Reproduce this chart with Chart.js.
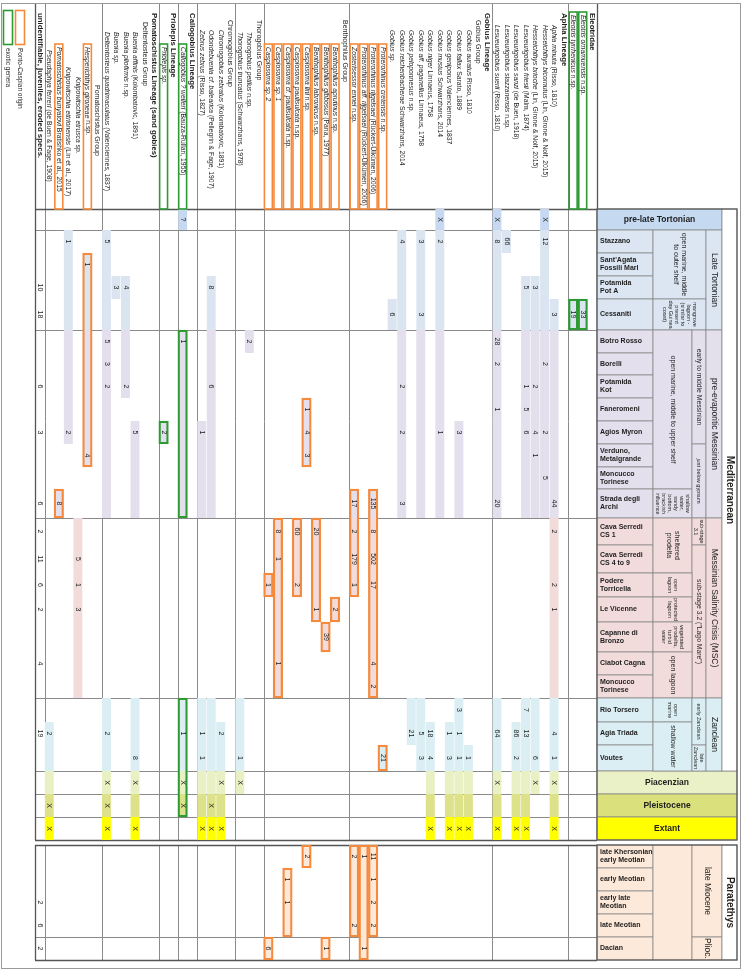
<!DOCTYPE html>
<html>
<head>
<meta charset="utf-8">
<title>Gobioid otolith record, Mediterranean and Paratethys</title>
<script src="https://cdn.jsdelivr.net/npm/chart.js@4.4.1/dist/chart.umd.min.js"></script>
<style>
  html, body { margin: 0; padding: 0; background: #fff; }
  #wrap { width: 743px; height: 971px; }
</style>
</head>
<body>
<div id="wrap"><canvas id="chart" width="743" height="971"></canvas></div>
<script>
'use strict';

// Taxa in table order (rightmost column first). kind: lin = lineage, grp = group, sp = taxon
const TAXA = [
    ['lin', 'Eleotridae'],
    ['sp', 'Eleotris ornamuensis', ' n.sp.'],
    ['sp', 'Eleotris tyrrhenicus', ' n.sp.'],
    ['lin', 'Aphia Lineage'],
    ['sp', 'Aphia minuta', ' (Risso, 1810)'],
    ['sp', 'Hesseichthys bicornutus', ' (Lin, Girone & Nolf, 2015)'],
    ['sp', 'Hesseichthys brioche', ' (Lin, Girone & Nolf, 2015)'],
    ['sp', 'Lesueurigobius friesii', ' (Malm, 1874)'],
    ['sp', 'Lesueurigobius sanzi', ' (de Buen, 1918)'],
    ['sp', 'Lesueurigobius stazzanensis', ' n.sp.'],
    ['sp', 'Lesueurigobius suerii', ' (Risso, 1810)'],
    ['lin', 'Gobius Lineage'],
    ['grp', 'Gobius Group'],
    ['sp', 'Gobius auratus', ' Risso, 1810'],
    ['sp', 'Gobius fallax', ' Sarato, 1889'],
    ['sp', 'Gobius geniporus', ' Valenciennes, 1837'],
    ['sp', 'Gobius mustus', ' Schwarzhans, 2014'],
    ['sp', 'Gobius niger', ' Linnaeus, 1758'],
    ['sp', 'Gobius aff. paganellus', ' Linnaeus, 1758'],
    ['sp', 'Gobius peloponnesus', ' n.sp.'],
    ['sp', 'Gobius reichenbacherae', ' Schwarzhans, 2014'],
    ['sp', 'Gobius sp.', ''],
    ['sp', 'Proterorhinus cretensis', ' n.sp.'],
    ['sp', 'Proterorhinus rijgelsaei', ' (Rückert-Ülkümen, 2006)'],
    ['sp', 'Proterorhinus aff. rijgelsaei', ' (Rückert-Ülkümen, 2006)'],
    ['sp', 'Zosterisessor ennei', ' n.sp.'],
    ['grp', 'Benthophilus Group'],
    ['sp', 'Benthophilus aprutinus', ' n.sp.'],
    ['sp', 'Benthophilus gibbosus', ' (Pana, 1977)'],
    ['sp', 'Benthophilus labronicus', ' n.sp.'],
    ['sp', 'Caspiosoma lini', ' n.sp.'],
    ['sp', 'Caspiosoma paulisulcata', ' n.sp.'],
    ['sp', 'Caspiosoma cf. paulisulcata', ' n.sp.'],
    ['sp', 'Caspiosoma sp. 1', ''],
    ['sp', 'Caspiosoma sp. 2', ''],
    ['grp', 'Thorogobius Group'],
    ['sp', 'Thorogobius petilus', ' n.sp.'],
    ['sp', 'Thorogobius truncatus', ' (Schwarzhans, 1978)'],
    ['grp', 'Chromogobius Group'],
    ['sp', 'Chromogobius zebratus', ' (Kolombatovic, 1891)'],
    ['sp', 'Odondebuenia cf. balearica', ' (Pellegrin & Fage, 1907)'],
    ['sp', 'Zebrus zebrus', ' (Risso, 1827)'],
    ['lin', 'Callogobius Lineage'],
    ['sp', 'Callogobius ? weileri', ' (Bauza-Rullan, 1955)'],
    ['lin', 'Priolepis Lineage'],
    ['sp', 'Priolepis sp.', ''],
    ['lin', 'Pomatoschistus Lineage (sand gobies)'],
    ['grp', 'Deltentosteus Group'],
    ['sp', 'Buenia affinis', ' (Kolombatovic, 1891)'],
    ['sp', 'Buenia pliofirmis', ' n.sp.'],
    ['sp', 'Buenia sp.', ''],
    ['sp', 'Deltentosteus quadrimaculatus', ' (Valenciennes, 1837)'],
    ['grp', 'Pomatoschistus Group'],
    ['sp', 'Hesperichthys gironeae', ' n.sp.'],
    ['sp', 'Knipowitschia etrusca', ' sp.'],
    ['sp', 'Knipowitschia ettrionensis', ' (Lin et al., 2017)'],
    ['sp', 'Pomatoschistus bunyatovi', ' Bratishko et al., 2015'],
    ['sp', 'Pseudaphya ferreri', ' (de Buen & Fage, 1908)'],
    ['lin', 'unidentifiable, juveniles, eroded specs.']
];

// Localities / stages, top to bottom
const INTERVALS = [
    'pre-late Tortonian', 'Stazzano', "Sant'Agata\nFossili Marl", 'Potamida\nPot A', 'Cessaniti',
    'Botro Rosso', 'Borelli', 'Potamida\nKot', 'Faneromeni', 'Agios Myron', 'Verduno,\nMetalgrande',
    'Moncucco\nTorinese', 'Strada degli\nArchi',
    'Cava Serredi\nCS 1', 'Cava Serredi\nCS 4 to 9', 'Podere\nTorricella', 'Le Vicenne',
    'Capanne di\nBronzo', 'Ciabot Cagna', 'Moncucco\nTorinese',
    'Rio Torsero', 'Agia Triada', 'Voutes', 'Piacenzian', 'Pleistocene', 'Extant',
    'late Khersonian -\nearly Meotian', 'early Meotian', 'early late\nMeotian', 'late Meotian', 'Dacian'
];

// Shaded occurrence ranges: [taxon, first interval, last interval]
const RANGES = [
    [1, 4, 4], [2, 4, 4], [4, 4, 25], [5, 0, 12],
    [6, 3, 12], [6, 20, 23], [7, 3, 12], [7, 20, 25], [8, 21, 25], [9, 1, 1],
    [10, 0, 12], [10, 20, 25], [13, 22, 25], [14, 9, 12], [14, 20, 25], [15, 21, 25],
    [16, 0, 12], [17, 21, 25], [18, 1, 12], [18, 20, 22], [19, 20, 21], [20, 1, 12], [21, 4, 4],
    [22, 22, 22], [23, 12, 19], [23, 26, 29], [24, 26, 30], [25, 12, 15], [25, 26, 29],
    [27, 16, 16], [28, 17, 17], [28, 30, 30], [29, 13, 16], [30, 8, 10], [30, 26, 26],
    [31, 13, 15], [32, 27, 29], [33, 13, 19], [34, 15, 15], [34, 30, 30],
    [36, 5, 5], [37, 20, 23], [39, 21, 25], [40, 3, 12], [40, 20, 25], [41, 9, 12], [41, 20, 25],
    [43, 0, 0], [43, 5, 12], [43, 20, 24], [45, 9, 9],
    [48, 9, 12], [48, 20, 25], [49, 3, 7], [50, 3, 3], [51, 1, 12], [51, 20, 25],
    [53, 2, 10], [54, 13, 19], [55, 1, 9], [56, 12, 12], [57, 21, 25]
];

// Specimen counts (X = present, no count): [taxon, interval, label]
const COUNTS = [
    [1, 4, '33'], [2, 4, '19'],
    [4, 4, '3'], [4, 12, '44'], [4, 13, '2'], [4, 15, '2'], [4, 16, '1'], [4, 21, '4'], [4, 22, '1'], [4, 23, 'X'], [4, 25, 'X'],
    [5, 0, 'X'], [5, 1, '12'], [5, 6, '2'], [5, 9, '2'], [5, 11, '5'],
    [6, 3, '3'], [6, 7, '2'], [6, 9, '4'], [6, 10, '1'], [6, 22, '6'], [6, 23, 'X'],
    [7, 3, '5'], [7, 7, '1'], [7, 8, '5'], [7, 9, '6'], [7, 20, '7'], [7, 21, '13'], [7, 25, 'X'],
    [8, 21, '86'], [8, 22, '2'], [8, 25, 'X'],
    [9, 1, '66'],
    [10, 0, 'X'], [10, 1, '8'], [10, 5, '28'], [10, 6, '2'], [10, 8, '1'], [10, 12, '20'], [10, 21, '64'], [10, 23, 'X'], [10, 25, 'X'],
    [13, 22, '1'], [13, 25, 'X'],
    [14, 9, '3'], [14, 20, '3'], [14, 21, '1'], [14, 22, '1'], [14, 25, 'X'],
    [15, 21, '1'], [15, 22, '3'], [15, 25, 'X'],
    [16, 0, 'X'], [16, 1, '2'], [16, 9, '1'],
    [17, 21, '18'], [17, 22, '4'], [17, 25, 'X'],
    [18, 1, '3'], [18, 4, '3'], [18, 21, '5'], [18, 22, '3'],
    [19, 21, '21'],
    [20, 1, '4'], [20, 7, '2'], [20, 9, '2'], [20, 12, '3'],
    [21, 4, '6'],
    [22, 22, '21'],
    [23, 12, '135'], [23, 13, '8'], [23, 14, '502'], [23, 15, '17'], [23, 18, '4'], [23, 19, '2'],
    [23, 26, '11'], [23, 27, '1'], [23, 28, '2'], [23, 29, '2'],
    [24, 26, '1'], [24, 30, '1'],
    [25, 12, '17'], [25, 13, '2'], [25, 14, '179'], [25, 15, '1'], [25, 26, '2'], [25, 29, '2'],
    [27, 16, '2'], [28, 17, '39'], [28, 30, '1'], [29, 13, '20'], [29, 16, '1'],
    [30, 8, '1'], [30, 9, '4'], [30, 10, '3'], [30, 26, '2'],
    [31, 13, '60'], [31, 15, '2'], [32, 27, '1'], [32, 28, '1'],
    [33, 13, '8'], [33, 14, '1'], [33, 18, '1'], [34, 15, '1'], [34, 30, '6'],
    [36, 5, '2'], [37, 22, '1'], [37, 23, 'X'],
    [39, 21, '2'], [39, 23, 'X'], [39, 25, 'X'],
    [40, 3, '8'], [40, 7, '6'], [40, 24, 'X'], [40, 25, 'X'],
    [41, 9, '1'], [41, 21, '1'], [41, 22, '1'], [41, 25, 'X'],
    [43, 0, '?'], [43, 5, '1'], [43, 21, '1'], [43, 23, 'X'], [43, 24, 'X'],
    [45, 9, '2'],
    [48, 9, '5'], [48, 22, '8'], [48, 23, 'X'], [48, 25, 'X'],
    [49, 3, '4'], [49, 7, '2'], [50, 3, '3'],
    [51, 1, '5'], [51, 5, '5'], [51, 6, '3'], [51, 7, '2'], [51, 21, '2'], [51, 23, 'X'], [51, 24, 'X'], [51, 25, 'X'],
    [53, 2, '1'], [53, 10, '4'],
    [54, 14, '5'], [54, 15, '1'], [54, 16, '3'],
    [55, 1, '1'], [55, 9, '2'], [56, 12, '8'],
    [57, 21, '2'], [57, 24, 'X'], [57, 25, 'X'],
    [58, 3, '10'], [58, 4, '18'], [58, 7, '6'], [58, 9, '3'], [58, 12, '6'], [58, 13, '2'], [58, 14, '11'],
    [58, 15, '6'], [58, 16, '2'], [58, 18, '4'], [58, 21, '19'], [58, 28, '2'], [58, 29, '6'], [58, 30, '2']
];

// Framed ranges: pc = Ponto-Caspian origin, ex = exotic genera
const FRAMES = [
    [1, 4, 4, 'ex'], [2, 4, 4, 'ex'], [22, 22, 22, 'pc'],
    [23, 12, 19, 'pc'], [23, 26, 29, 'pc'], [24, 26, 30, 'pc'], [25, 12, 15, 'pc'], [25, 26, 29, 'pc'],
    [27, 16, 16, 'pc'], [28, 17, 17, 'pc'], [28, 30, 30, 'pc'], [29, 13, 16, 'pc'],
    [30, 8, 10, 'pc'], [30, 26, 26, 'pc'], [31, 13, 15, 'pc'], [32, 27, 29, 'pc'],
    [33, 13, 19, 'pc'], [34, 15, 15, 'pc'], [34, 30, 30, 'pc'],
    [43, 5, 12, 'ex'], [43, 20, 24, 'ex'], [45, 9, 9, 'ex'], [53, 2, 10, 'pc'], [56, 12, 12, 'pc']
];

const NAME_FRAMES = [
    [1, 'ex'], [2, 'ex'], [22, 'pc'], [23, 'pc'], [24, 'pc'], [25, 'pc'],
    [27, 'pc'], [28, 'pc'], [29, 'pc'], [30, 'pc'], [31, 'pc'], [32, 'pc'], [33, 'pc'], [34, 'pc'],
    [43, 'ex'], [45, 'ex'], [53, 'pc'], [56, 'pc']
];

// Header cells: [first row, last row, first col, last col, text, style]
const HEADER = [
    [1, 3, 1, 3, 'open marine, middle\nto outer shelf', 'env'],
    [4, 4, 1, 3, 'mangrove\nlagoon -\n(similar to\npresent\nday Guinea\ncoast)', 'tiny'],
    [1, 4, 3, 4, 'Late Tortonian', 'per'],
    [5, 11, 1, 2, 'open marine, middle to upper shelf', 'env'],
    [12, 12, 1, 2, 'shallow\nwater,\nsandy\nbottom,\nbrackish\ninfluence', 'tiny'],
    [5, 9, 2, 3, 'early to middle Messinian', 'sub'],
    [10, 12, 2, 3, 'just below gypsum', 'tiny'],
    [5, 12, 3, 4, 'pre-evaporitic Messinian', 'per'],
    [13, 14, 1, 2, 'sheltered\nprodelta', 'env'],
    [13, 13, 2, 3, 'sub-stage\n3.1', 'tiny'],
    [14, 19, 2, 3, 'sub-stage 3.2 ("Lago Mare")', 'sub'],
    [15, 15, 1, 2, 'open\nlagoon', 'tiny'],
    [16, 16, 1, 2, 'protected\nlagoon', 'tiny'],
    [17, 17, 1, 2, 'vegetated\nprodelta,\nturbid\nwater', 'tiny'],
    [18, 19, 1, 2, 'open lagoon', 'env'],
    [13, 19, 3, 4, 'Messinian Salinity Crisis (MSC)', 'per'],
    [20, 20, 1, 2, 'open\nmarine', 'tiny'],
    [21, 22, 1, 2, 'shallow water', 'env'],
    [20, 21, 2, 3, 'early Zanclean', 'tiny'],
    [22, 22, 2, 3, 'late\nZanclean', 'tiny'],
    [20, 22, 3, 4, 'Zanclean', 'per'],
    [0, 22, 4, 5, 'Mediterranean', 'reg'],
    [26, 30, 1, 2, '', 'env'],
    [26, 29, 2, 4, 'late Miocene', 'per'],
    [30, 30, 2, 4, 'Plioc.', 'per'],
    [26, 30, 4, 5, 'Paratethys', 'reg']
];

// ---- layout and style ----
const ROW_H = [21, 23, 23, 23, 31, 23, 22, 23, 23, 23, 23, 22, 29, 27, 28, 24, 25, 30, 23, 23,
    24, 23, 26, 23, 23, 23, 23, 23, 23, 23, 23];
const GAP_AT = 26;
const GAP = 5;
const ROW_PERIOD = ['pre', 'tort', 'tort', 'tort', 'tort',
    'mess', 'mess', 'mess', 'mess', 'mess', 'mess', 'mess', 'mess',
    'msc', 'msc', 'msc', 'msc', 'msc', 'msc', 'msc',
    'zan', 'zan', 'zan', 'pia', 'ple', 'ext', 'para', 'para', 'para', 'para', 'para'];
const SHADE = {
    pre: '#c6d9f1', tort: '#dbe5f1', mess: '#e4dfec', msc: '#f2dcdb', zan: '#daeef3',
    pia: '#e9f0c4', ple: '#dde28a', ext: '#ffff00', para: '#fde9d9'
};
const HEAD_FILL = {
    pre: '#c5d9f1', tort: '#dce6f2', mess: '#e4dfec', msc: '#f2dcdb', zan: '#daeef3',
    pia: '#ebf1c6', ple: '#d9e07c', ext: '#ffff00', para: '#fde9d9'
};
const FRAME_COLOR = { pc: '#f58a3c', ex: '#2e9a33' };
const NAME_Y = [13, 15, 15, 13, 25, 25, 25, 25, 25, 25, 25, 13, 20, 30, 30, 30, 30, 30, 30, 30, 30, 30,
    47, 47, 47, 47, 20, 47, 47, 47, 47, 47, 47, 47, 47, 20, 32, 32, 20, 30, 30, 30, 13, 47, 13, 47,
    13, 22, 32, 32, 32, 32, 85, 47, 77, 67, 47, 50, 13];
const GROUP_BREAKS = [3, 11, 26, 35, 38, 42, 44, 46, 52, 58];
const HEAD_COLS = [0, 56, 95, 109, 125, 140];
const FONT = '"Liberation Sans", Arial, sans-serif';
const LINE = '#8a8a8a';

const ROW_TOP = [];
let yAcc = 0;
ROW_H.forEach(function(h, i) {
    if (i === GAP_AT) yAcc += GAP;
    ROW_TOP.push(yAcc);
    yAcc += h;
});
const Y_MAX = yAcc;

/**
 * Put a floating bar for one taxon into the first free dataset of that kind
 */
function placeBar(sets, key, style, taxon, a, b) {
    let ds = sets.find(function(d) { return d.key === key && d.data[taxon] === null; });
    if (!ds) {
        ds = Object.assign({ key: key, data: new Array(TAXA.length).fill(null) }, style);
        sets.push(ds);
    }
    ds.data[taxon] = [ROW_TOP[a], ROW_TOP[b] + ROW_H[b]];
}

const shadeSets = [];
RANGES.forEach(function(rg) {
    let start = rg[1];
    for (let r = rg[1]; r <= rg[2]; r++) {
        if (r === rg[2] || ROW_PERIOD[r + 1] !== ROW_PERIOD[start]) {
            const p = ROW_PERIOD[start];
            placeBar(shadeSets, p, {
                backgroundColor: SHADE[p], borderWidth: 0, barPercentage: 0.94,
                categoryPercentage: 1, grouped: false, order: 5
            }, rg[0], start, r);
            start = r + 1;
        }
    }
});

const frameSets = [];
FRAMES.forEach(function(f) {
    placeBar(frameSets, f[3], {
        backgroundColor: 'rgba(0,0,0,0)', borderColor: FRAME_COLOR[f[3]], borderWidth: 1.6,
        borderSkipped: false, barPercentage: 1, categoryPercentage: 1, grouped: false, order: 1
    }, f[0], f[1], f[2]);
});

/**
 * Pixel helpers from the chart scales
 */
function geom(chart) {
    const xs = chart.scales.x;
    const ys = chart.scales.y;
    const half = Math.abs(xs.getPixelForValue(0) - xs.getPixelForValue(1)) / 2;
    return {
        half: half,
        area: chart.chartArea,
        cx: function(i) { return xs.getPixelForValue(i); },
        edge: function(k) { return xs.getPixelForValue(k) + half; },
        top: function(r) { return ys.getPixelForValue(ROW_TOP[r]); },
        bot: function(r) { return ys.getPixelForValue(ROW_TOP[r] + ROW_H[r]); }
    };
}

function vText(c, text, x, y, align, lh) {
    const lines = text.split('\n');
    c.save();
    c.translate(x, y);
    c.rotate(Math.PI / 2);
    c.textAlign = align;
    c.textBaseline = 'middle';
    lines.forEach(function(ln, k) {
        c.fillText(ln, 0, (k - (lines.length - 1) / 2) * lh);
    });
    c.restore();
}

function hLine(c, x0, x1, y) {
    c.beginPath(); c.moveTo(x0, y); c.lineTo(x1, y); c.stroke();
}

function vLine(c, x, y0, y1) {
    c.beginPath(); c.moveTo(x, y0); c.lineTo(x, y1); c.stroke();
}

/**
 * Table rules in the data area
 */
function drawGrid(chart) {
    const c = chart.ctx;
    const g = geom(chart);
    const a = g.area;
    c.save();
    c.strokeStyle = LINE;
    c.lineWidth = 1;
    GROUP_BREAKS.forEach(function(k) {
        const x = Math.round(g.edge(k)) + 0.5;
        vLine(c, x, 3, g.bot(25));
        vLine(c, x, g.top(26), g.bot(30));
    });
    [1, 5, 13, 20, 23, 24, 25].forEach(function(r) {
        hLine(c, a.left, a.right, Math.round(g.top(r)) + 0.5);
    });
    hLine(c, a.left, a.right, Math.round(g.top(30)) + 0.5);
    c.strokeStyle = '#555';
    c.lineWidth = 1.3;
    vLine(c, Math.round(a.left) + 0.5, 3, g.bot(25));
    vLine(c, Math.round(a.left) + 0.5, g.top(26), g.bot(30));
    vLine(c, Math.round(a.right) + 0.5, 3, g.bot(25));
    vLine(c, Math.round(a.right) + 0.5, g.top(26), g.bot(30));
    hLine(c, a.left, a.right, Math.round(g.top(0)) + 0.5);
    hLine(c, a.left, a.right, Math.round(g.bot(25)) + 0.5);
    hLine(c, a.left, a.right, Math.round(g.top(26)) + 0.5);
    hLine(c, a.left, a.right, Math.round(g.bot(30)) + 0.5);
    c.restore();
}

/**
 * Specimen counts inside the cells
 */
function drawCounts(chart) {
    const c = chart.ctx;
    const g = geom(chart);
    c.save();
    c.fillStyle = '#222';
    c.font = '7px ' + FONT;
    COUNTS.forEach(function(n) {
        vText(c, n[2], g.cx(n[0]), (g.top(n[1]) + g.bot(n[1])) / 2, 'center', 8);
    });
    c.restore();
}

/**
 * Stage / locality header on the right
 */
function drawHeader(chart) {
    const c = chart.ctx;
    const g = geom(chart);
    const x0 = g.area.right;
    const col = function(i) { return x0 + HEAD_COLS[i]; };
    const cells = [];

    cells.push([0, 0, 0, 4, INTERVALS[0], 'hz']);
    INTERVALS.forEach(function(name, r) {
        if (r === 0) return;
        if (r >= 23 && r <= 25) cells.push([r, r, 0, 5, name, 'hz']);
        else cells.push([r, r, 0, 1, name, 'iv']);
    });
    HEADER.forEach(function(h) { cells.push(h); });

    c.save();
    cells.forEach(function(h) {
        const xa = col(h[2]), xb = col(h[3]);
        const ya = g.top(h[0]), yb = g.bot(h[1]);
        c.fillStyle = h[5] === 'reg' ? '#ffffff' : HEAD_FILL[ROW_PERIOD[h[0]]];
        c.fillRect(xa, ya, xb - xa, yb - ya);
        c.strokeStyle = LINE;
        c.lineWidth = 0.8;
        c.strokeRect(xa, ya, xb - xa, yb - ya);

        c.fillStyle = '#1e1e1e';
        const xm = (xa + xb) / 2, ym = (ya + yb) / 2;
        if (h[5] === 'iv') {
            c.font = 'bold 7px ' + FONT;
            c.textAlign = 'left';
            c.textBaseline = 'middle';
            const lines = h[4].split('\n');
            lines.forEach(function(ln, k) {
                c.fillText(ln, xa + 3, ym + (k - (lines.length - 1) / 2) * 8);
            });
        } else if (h[5] === 'hz') {
            c.font = 'bold 8.5px ' + FONT;
            c.textAlign = 'center';
            c.textBaseline = 'middle';
            c.fillText(h[4], xm, ym);
        } else if (h[5] === 'env') {
            c.font = '7px ' + FONT;
            vText(c, h[4], xm, ym, 'center', 8);
        } else if (h[5] === 'tiny') {
            c.font = '5.5px ' + FONT;
            vText(c, h[4], xm, ym, 'center', 6);
        } else if (h[5] === 'sub') {
            c.font = '6.8px ' + FONT;
            vText(c, h[4], xm, ym, 'center', 8);
        } else if (h[5] === 'per') {
            c.font = '8.5px ' + FONT;
            vText(c, h[4], xm, ym, 'center', 9);
        } else if (h[5] === 'reg') {
            c.font = 'bold 10px ' + FONT;
            vText(c, h[4], xm, ym, 'center', 10);
        }
    });
    c.strokeStyle = '#555';
    c.lineWidth = 1.2;
    c.strokeRect(col(0), g.top(0), HEAD_COLS[5], g.bot(25) - g.top(0));
    c.strokeRect(col(0), g.top(26), HEAD_COLS[5], g.bot(30) - g.top(26));
    c.restore();
}

/**
 * Taxon names along the top, written downwards
 */
function drawNames(chart) {
    const c = chart.ctx;
    const g = geom(chart);
    c.save();
    NAME_FRAMES.forEach(function(nf) {
        const i = nf[0];
        c.strokeStyle = FRAME_COLOR[nf[1]];
        c.lineWidth = 1.6;
        const yTop = NAME_Y[i] - 3;
        c.strokeRect(g.cx(i) - g.half + 0.8, yTop, g.half * 2 - 1.6, g.area.top - yTop);
    });
    c.fillStyle = '#1e1e1e';
    TAXA.forEach(function(t, i) {
        c.save();
        c.translate(g.cx(i), NAME_Y[i]);
        c.rotate(Math.PI / 2);
        c.textAlign = 'left';
        c.textBaseline = 'middle';
        if (t[0] === 'lin') {
            c.font = 'bold 7.8px ' + FONT;
            c.fillText(t[1], 0, 0);
        } else if (t[0] === 'grp') {
            c.font = '7px ' + FONT;
            c.fillText(t[1], 0, 0);
        } else {
            c.font = 'italic 6.8px ' + FONT;
            c.fillText(t[1], 0, 0);
            const w = c.measureText(t[1]).width;
            c.font = '6.8px ' + FONT;
            c.fillText(t[2], w, 0);
        }
        c.restore();
    });
    c.restore();
}

/**
 * Key in the top left corner and outer frame
 */
function drawLegend(chart) {
    const c = chart.ctx;
    c.save();
    c.lineWidth = 1.6;
    c.strokeStyle = FRAME_COLOR.pc;
    c.strokeRect(15.5, 10.5, 9, 34);
    c.strokeStyle = FRAME_COLOR.ex;
    c.strokeRect(3.5, 10.5, 9, 34);
    c.fillStyle = '#1e1e1e';
    c.font = '6.5px ' + FONT;
    vText(c, 'Ponto-Caspian origin', 20, 48, 'left', 7);
    vText(c, 'exotic genera', 8, 48, 'left', 7);
    c.strokeStyle = '#9a9a9a';
    c.lineWidth = 1;
    c.strokeRect(1.5, 3.5, 739, 965);
    c.restore();
}

const tablePlugin = {
    id: 'rangeTable',
    beforeDraw: function(chart) {
        const c = chart.ctx;
        c.save();
        c.fillStyle = '#fff';
        c.fillRect(0, 0, chart.width, chart.height);
        c.restore();
    },
    beforeDatasetsDraw: function(chart) { drawGrid(chart); },
    afterDatasetsDraw: function(chart) { drawCounts(chart); },
    afterDraw: function(chart) {
        drawHeader(chart);
        drawNames(chart);
        drawLegend(chart);
    }
};

new Chart(document.getElementById('chart').getContext('2d'), {
    type: 'bar',
    data: {
        labels: TAXA.map(function(t) { return t[1]; }),
        datasets: frameSets.concat(shadeSets)
    },
    options: {
        responsive: false,
        animation: false,
        devicePixelRatio: 1,
        layout: { padding: { left: 35, right: 146, top: 209, bottom: 11 } },
        plugins: { legend: { display: false }, tooltip: { enabled: false } },
        scales: {
            x: { type: 'category', reverse: true, offset: true, display: false, grid: { display: false } },
            y: { type: 'linear', min: 0, max: Y_MAX, reverse: true, display: false }
        }
    },
    plugins: [tablePlugin]
});
</script>
</body>
</html>
